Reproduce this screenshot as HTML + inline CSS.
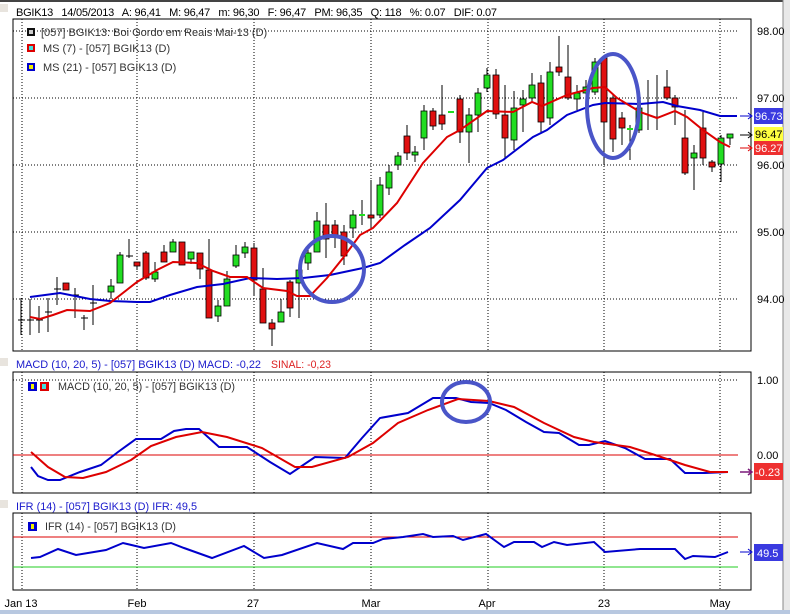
<!DOCTYPE html>
<html><head><meta charset="utf-8"><style>
html,body{margin:0;padding:0;background:#fff;width:790px;height:614px;overflow:hidden}
svg{display:block;font-family:"Liberation Sans",sans-serif}
</style></head><body>
<svg width="790" height="614" viewBox="0 0 790 614">
<rect x="0" y="0" width="790" height="614" fill="#fff"/>
<rect x="0" y="0" width="790" height="2" fill="#444"/>
<rect x="783" y="0" width="7" height="614" fill="#e8e8e8"/>
<line x1="783" y1="0" x2="783" y2="614" stroke="#888"/>
<rect x="0" y="610" width="790" height="4" fill="#b8c8e0"/>
<rect x="0" y="4" width="8" height="8" fill="#e8e4de"/>
<text x="16" y="16" font-size="11" fill="#000" textLength="481" lengthAdjust="spacing" xml:space="preserve">BGIK13   14/05/2013   A: 96,41   M: 96,47   m: 96,30   F: 96,47   PM: 96,35   Q: 118   %: 0.07   DIF: 0.07</text>

<!-- MAIN PANEL -->
<rect x="13" y="19" width="738" height="332" fill="none" stroke="#000"/>
<g stroke="#000" stroke-dasharray="1,2" stroke-width="1">
<line x1="13" y1="31" x2="738" y2="31"/><line x1="13" y1="98" x2="738" y2="98"/><line x1="13" y1="165" x2="738" y2="165"/><line x1="13" y1="232" x2="738" y2="232"/><line x1="13" y1="299" x2="738" y2="299"/>
<line x1="22" y1="19" x2="22" y2="351"/><line x1="137" y1="19" x2="137" y2="351"/><line x1="254" y1="19" x2="254" y2="351"/><line x1="371" y1="19" x2="371" y2="351"/><line x1="488" y1="19" x2="488" y2="351"/><line x1="604" y1="19" x2="604" y2="351"/><line x1="720" y1="19" x2="720" y2="351"/>
</g>
<g font-size="11" fill="#000">
<text x="757" y="35">98.00</text><text x="757" y="102">97.00</text><text x="757" y="169">96.00</text><text x="757" y="236">95.00</text><text x="757" y="303">94.00</text>
</g>
<!-- legend -->
<rect x="27" y="28" width="8" height="8" fill="#111"/><rect x="29" y="30" width="4" height="4" fill="#ccc"/>
<text x="41" y="36" font-size="11" fill="#333">[057] BGIK13: Boi Gordo em Reais Mai-13      (D)</text>
<rect x="27" y="44" width="8" height="8" fill="#d00"/><rect x="29" y="46" width="4" height="4" fill="#4dd"/>
<text x="43" y="52" font-size="11" fill="#333">MS (7)  - [057] BGIK13 (D)</text>
<rect x="27" y="63" width="8" height="8" fill="#00c"/><rect x="29" y="65" width="4" height="4" fill="#ee0"/>
<text x="43" y="71" font-size="11" fill="#333">MS (21)  - [057] BGIK13 (D)</text>

<!-- wicks -->
<g stroke="#000" stroke-width="1">
<line x1="21" y1="298" x2="21" y2="335"/><line x1="30" y1="299" x2="30" y2="335"/><line x1="39" y1="306" x2="39" y2="333"/><line x1="48" y1="298" x2="48" y2="332"/><line x1="57" y1="277" x2="57" y2="305"/><line x1="75" y1="288" x2="75" y2="318"/><line x1="84" y1="315" x2="84" y2="330"/><line x1="93" y1="285" x2="93" y2="325"/>
<line x1="111" y1="279" x2="111" y2="299"/><line x1="120" y1="252" x2="120" y2="283"/><line x1="129" y1="239" x2="129" y2="258"/><line x1="137" y1="262" x2="137" y2="270"/><line x1="146" y1="251" x2="146" y2="280"/><line x1="155" y1="262" x2="155" y2="282"/><line x1="164" y1="245" x2="164" y2="262"/><line x1="173" y1="239" x2="173" y2="252"/><line x1="182" y1="242" x2="182" y2="265"/><line x1="191" y1="252" x2="191" y2="264"/><line x1="200" y1="253" x2="200" y2="279"/><line x1="209" y1="239" x2="209" y2="318"/><line x1="218" y1="300" x2="218" y2="322"/><line x1="227" y1="271" x2="227" y2="306"/><line x1="236" y1="245" x2="236" y2="268"/><line x1="245" y1="242" x2="245" y2="258"/><line x1="254" y1="243" x2="254" y2="295"/><line x1="263" y1="268" x2="263" y2="323"/><line x1="272" y1="319" x2="272" y2="346"/><line x1="281" y1="299" x2="281" y2="322"/><line x1="290" y1="280" x2="290" y2="317"/><line x1="299" y1="265" x2="299" y2="318"/><line x1="308" y1="245" x2="308" y2="270"/><line x1="317" y1="212" x2="317" y2="252"/><line x1="326" y1="203" x2="326" y2="258"/><line x1="335" y1="220" x2="335" y2="248"/><line x1="344" y1="225" x2="344" y2="265"/><line x1="353" y1="210" x2="353" y2="238"/><line x1="362" y1="200" x2="362" y2="225"/><line x1="371" y1="180" x2="371" y2="230"/><line x1="380" y1="177" x2="380" y2="218"/><line x1="389" y1="165" x2="389" y2="195"/><line x1="398" y1="152" x2="398" y2="170"/><line x1="407" y1="125" x2="407" y2="160"/><line x1="415" y1="146" x2="415" y2="162"/><line x1="424" y1="105" x2="424" y2="150"/><line x1="433" y1="108" x2="433" y2="130"/><line x1="442" y1="85" x2="442" y2="130"/><line x1="460" y1="95" x2="460" y2="143"/><line x1="469" y1="108" x2="469" y2="163"/><line x1="478" y1="88" x2="478" y2="132"/><line x1="487" y1="68" x2="487" y2="92"/><line x1="496" y1="69" x2="496" y2="119"/><line x1="505" y1="85" x2="505" y2="158"/><line x1="514" y1="91" x2="514" y2="150"/><line x1="523" y1="90" x2="523" y2="132"/><line x1="532" y1="73" x2="532" y2="102"/><line x1="541" y1="75" x2="541" y2="132"/><line x1="550" y1="62" x2="550" y2="125"/><line x1="559" y1="36" x2="559" y2="76"/><line x1="568" y1="45" x2="568" y2="100"/><line x1="577" y1="85" x2="577" y2="110"/><line x1="586" y1="80" x2="586" y2="100"/><line x1="595" y1="58" x2="595" y2="95"/><line x1="604" y1="55" x2="604" y2="165"/><line x1="613" y1="95" x2="613" y2="152"/><line x1="622" y1="112" x2="622" y2="145"/><line x1="630" y1="125" x2="630" y2="160"/><line x1="639" y1="105" x2="639" y2="133"/><line x1="648" y1="80" x2="648" y2="130"/><line x1="657" y1="75" x2="657" y2="130"/><line x1="667" y1="70" x2="667" y2="100"/><line x1="675" y1="95" x2="675" y2="125"/><line x1="685" y1="110" x2="685" y2="175"/><line x1="694" y1="145" x2="694" y2="190"/><line x1="703" y1="112" x2="703" y2="165"/><line x1="712" y1="160" x2="712" y2="172"/><line x1="721" y1="135" x2="721" y2="182"/><line x1="730" y1="134" x2="730" y2="145"/>
<line x1="18" y1="320" x2="25" y2="320"/><line x1="27" y1="320" x2="34" y2="320"/><line x1="36" y1="320" x2="43" y2="320"/><line x1="45" y1="312" x2="52" y2="312"/><line x1="54" y1="289" x2="61" y2="289"/><line x1="72" y1="295" x2="79" y2="295"/><line x1="81" y1="318" x2="88" y2="318"/><line x1="90" y1="303" x2="97" y2="303"/><line x1="126" y1="256" x2="133" y2="256"/>
</g>
<!-- bodies -->
<g stroke="#000" stroke-width="0.8">
<g fill="#e01010">
<rect x="63" y="283" width="6" height="7"/><rect x="134" y="262" width="6" height="4"/><rect x="143" y="253" width="6" height="25"/><rect x="161" y="252" width="6" height="10"/><rect x="179" y="242" width="6" height="23"/><rect x="197" y="253" width="6" height="16"/><rect x="206" y="270" width="6" height="48"/><rect x="251" y="248" width="6" height="32"/><rect x="260" y="289" width="6" height="34"/><rect x="269" y="323" width="6" height="6"/><rect x="287" y="282" width="6" height="26"/><rect x="323" y="225" width="6" height="14"/><rect x="332" y="225" width="6" height="11"/><rect x="341" y="232" width="6" height="24"/><rect x="368" y="215" width="6" height="3"/><rect x="404" y="136" width="6" height="17"/><rect x="430" y="111" width="6" height="15"/><rect x="439" y="115" width="6" height="9"/><rect x="457" y="99" width="6" height="33"/><rect x="493" y="75" width="6" height="39"/><rect x="502" y="115" width="6" height="23"/><rect x="538" y="83" width="6" height="39"/><rect x="556" y="67" width="6" height="5"/><rect x="565" y="77" width="6" height="21"/><rect x="601" y="58" width="6" height="64"/><rect x="610" y="98" width="6" height="41"/><rect x="619" y="118" width="6" height="10"/><rect x="664" y="87" width="6" height="11"/><rect x="672" y="98" width="6" height="9"/><rect x="682" y="138" width="6" height="35"/><rect x="700" y="128" width="6" height="30"/><rect x="709" y="162" width="6" height="5"/>
</g>
<g fill="#22dd22">
<rect x="108" y="286" width="6" height="6"/><rect x="117" y="255" width="6" height="28"/><rect x="152" y="272" width="6" height="7"/><rect x="170" y="242" width="6" height="10"/><rect x="188" y="252" width="6" height="7"/><rect x="215" y="306" width="6" height="10"/><rect x="224" y="279" width="6" height="27"/><rect x="233" y="255" width="6" height="11"/><rect x="242" y="247" width="6" height="6"/><rect x="278" y="312" width="6" height="10"/><rect x="296" y="270" width="6" height="13"/><rect x="305" y="253" width="6" height="10"/><rect x="314" y="221" width="6" height="31"/><rect x="350" y="215" width="6" height="13"/><rect x="377" y="185" width="6" height="30"/><rect x="386" y="172" width="6" height="16"/><rect x="395" y="156" width="6" height="9"/><rect x="412" y="152" width="6" height="3"/><rect x="421" y="111" width="6" height="27"/><rect x="466" y="115" width="6" height="17"/><rect x="475" y="93" width="6" height="22"/><rect x="484" y="75" width="6" height="13"/><rect x="511" y="108" width="6" height="32"/><rect x="520" y="99" width="6" height="6"/><rect x="529" y="85" width="6" height="13"/><rect x="547" y="72" width="6" height="46"/><rect x="574" y="93" width="6" height="6"/><rect x="583" y="87" width="6" height="6"/><rect x="592" y="62" width="6" height="30"/><rect x="636" y="108" width="6" height="22"/><rect x="691" y="153" width="6" height="5"/><rect x="718" y="138" width="6" height="26"/><rect x="727" y="134" width="6" height="4"/>
</g>
</g>
<g stroke="#22dd22" stroke-width="2"><line x1="359" y1="215" x2="365" y2="215"/><line x1="448" y1="112" x2="454" y2="112"/><line x1="627" y1="129" x2="633" y2="129"/></g>

<polyline fill="none" stroke="#0000cc" stroke-width="2" points="30,297 60,293 90,299 110,301 137,302 150,302 170,295 197,287 223,284 250,278 277,279 303,278 330,275 363,268 380,263 405,245 430,228 460,200 487,168 503,160 533,137 547,130 567,115 593,105 605,103 640,104 663,102 677,106 700,110 720,116 737,116"/>
<polyline fill="none" stroke="#dd0000" stroke-width="2" points="30,317 40,319 53,315 67,310 90,311 110,303 137,282 157,270 173,262 197,263 213,271 230,277 247,277 263,288 287,291 297,296 310,296 327,278 343,258 360,235 373,228 397,203 423,163 447,137 460,130 487,111 513,112 532,102 542,106 567,95 593,88 605,87 617,98 637,110 640,112 657,118 675,111 687,117 703,130 720,142 730,147"/>
<g fill="none" stroke="#4a55c8" stroke-width="4"><ellipse cx="332" cy="269" rx="32" ry="33"/><ellipse cx="613" cy="106" rx="26" ry="52"/></g>
<g stroke-width="1" fill="none">
<path d="M740 116 H752 M748 113 L752 116 L748 119" stroke="#0000cc"/>
<path d="M740 135 H752 M748 132 L752 135 L748 138" stroke="#000"/>
<path d="M740 148 H752 M748 145 L752 148 L748 151" stroke="#dd0000"/>
</g>
<rect x="754" y="108" width="29" height="16" fill="#3a3ae0"/><text x="755" y="120" font-size="11" fill="#fff">96.73</text>
<rect x="754" y="127" width="29" height="14" fill="#ffff40"/><text x="755" y="138" font-size="11" fill="#000">96.47</text>
<rect x="754" y="141" width="29" height="14" fill="#ee3030"/><text x="755" y="152" font-size="11" fill="#fff">96.27</text>

<!-- MACD PANEL -->
<rect x="0" y="358" width="8" height="8" fill="#e8e4de"/>
<text x="16" y="368" font-size="11" fill="#1a1acc" textLength="245" lengthAdjust="spacingAndGlyphs">MACD (10, 20, 5)  - [057] BGIK13 (D)  MACD: -0,22</text>
<text x="271" y="368" font-size="11" fill="#dd2222" textLength="60" lengthAdjust="spacingAndGlyphs">SINAL: -0,23</text>
<rect x="13" y="372" width="738" height="121" fill="none" stroke="#000"/>
<g stroke="#000" stroke-dasharray="1,2">
<line x1="13" y1="380" x2="738" y2="380"/>
<line x1="22" y1="372" x2="22" y2="493"/><line x1="137" y1="372" x2="137" y2="493"/><line x1="254" y1="372" x2="254" y2="493"/><line x1="371" y1="372" x2="371" y2="493"/><line x1="488" y1="372" x2="488" y2="493"/><line x1="604" y1="372" x2="604" y2="493"/><line x1="720" y1="372" x2="720" y2="493"/>
</g>
<line x1="13" y1="455" x2="738" y2="455" stroke="#dd0000"/>
<text x="757" y="384" font-size="11">1.00</text><text x="757" y="459" font-size="11">0.00</text>
<rect x="28" y="382" width="9" height="9" fill="#00c"/><rect x="31" y="384" width="3" height="5" fill="#ee0"/>
<rect x="40" y="382" width="9" height="9" fill="#d00"/><rect x="42" y="384" width="4" height="5" fill="#4dd"/>
<text x="58" y="390" font-size="11" fill="#333" textLength="177" lengthAdjust="spacingAndGlyphs">MACD (10, 20, 5)  - [057] BGIK13 (D)</text>
<polyline fill="none" stroke="#0000cc" stroke-width="2" points="31,467 38,476 48,480 60,480 80,472 101,465 118,452 136,439 161,439 174,431 186,429 199,429 219,447 247,447 270,462 290,474 315,457 345,458 362,438 380,418 408,413 433,398 456,398 471,402 489,403 506,410 526,422 544,432 559,433 579,445 589,445 605,441 625,448 645,459 670,459 685,473 705,473 728,472"/>
<polyline fill="none" stroke="#dd0000" stroke-width="2" points="31,452 48,467 65,477 83,478 106,472 131,460 151,446 176,437 202,432 227,437 262,448 295,467 312,467 348,457 373,443 398,423 428,410 458,399 489,401 514,407 544,423 574,437 594,442 630,447 655,455 685,465 710,472 728,472"/>
<ellipse cx="466" cy="402" rx="24" ry="20" fill="none" stroke="#4a55c8" stroke-width="4"/>
<path d="M740 472 H752 M748 469 L752 472 L748 475" stroke="#7a1a7a" stroke-width="1.5" fill="none"/>
<rect x="754" y="463" width="29" height="17" fill="#ee3030"/><text x="755" y="476" font-size="11" fill="#fff">-0.23</text>

<!-- IFR PANEL -->
<rect x="0" y="500" width="8" height="8" fill="#e8e4de"/>
<text x="16" y="510" font-size="11" fill="#1a1acc" textLength="181" lengthAdjust="spacingAndGlyphs">IFR (14)  - [057] BGIK13 (D)  IFR: 49,5</text>
<rect x="13" y="513" width="738" height="77" fill="none" stroke="#000"/>
<g stroke="#000" stroke-dasharray="1,2">
<line x1="22" y1="513" x2="22" y2="590"/><line x1="137" y1="513" x2="137" y2="590"/><line x1="254" y1="513" x2="254" y2="590"/><line x1="371" y1="513" x2="371" y2="590"/><line x1="488" y1="513" x2="488" y2="590"/><line x1="604" y1="513" x2="604" y2="590"/><line x1="720" y1="513" x2="720" y2="590"/>
</g>
<line x1="13" y1="537" x2="738" y2="537" stroke="#dd0000"/>
<line x1="13" y1="567" x2="738" y2="567" stroke="#22cc22"/>
<rect x="28" y="522" width="9" height="9" fill="#00c"/><rect x="31" y="524" width="3" height="5" fill="#ee0"/>
<text x="45" y="530" font-size="11" fill="#333" textLength="131" lengthAdjust="spacingAndGlyphs">IFR (14)  - [057] BGIK13 (D)</text>
<polyline fill="none" stroke="#0000cc" stroke-width="2" points="31,558 40,557 58,549 76,555 106,550 123,543 144,548 171,543 184,548 212,558 244,546 264,558 282,555 317,543 343,549 353,543 373,543 383,539 403,537 423,534 433,537 453,536 463,540 486,534 504,547 514,542 534,542 542,547 554,542 567,545 594,542 605,552 640,549 675,549 685,559 693,556 715,557 728,552"/>
<path d="M740 552 H752 M748 549 L752 552 L748 555" stroke="#0000cc" stroke-width="1" fill="none"/>
<rect x="754" y="544" width="29" height="17" fill="#3a3ae0"/><text x="757" y="557" font-size="11" fill="#fff">49.5</text>

<g font-size="11" fill="#000" text-anchor="middle">
<text x="21" y="607">Jan 13</text><text x="137" y="607">Feb</text><text x="253" y="607">27</text><text x="371" y="607">Mar</text><text x="487" y="607">Apr</text><text x="604" y="607">23</text><text x="720" y="607">May</text>
</g>
</svg>
</body></html>
